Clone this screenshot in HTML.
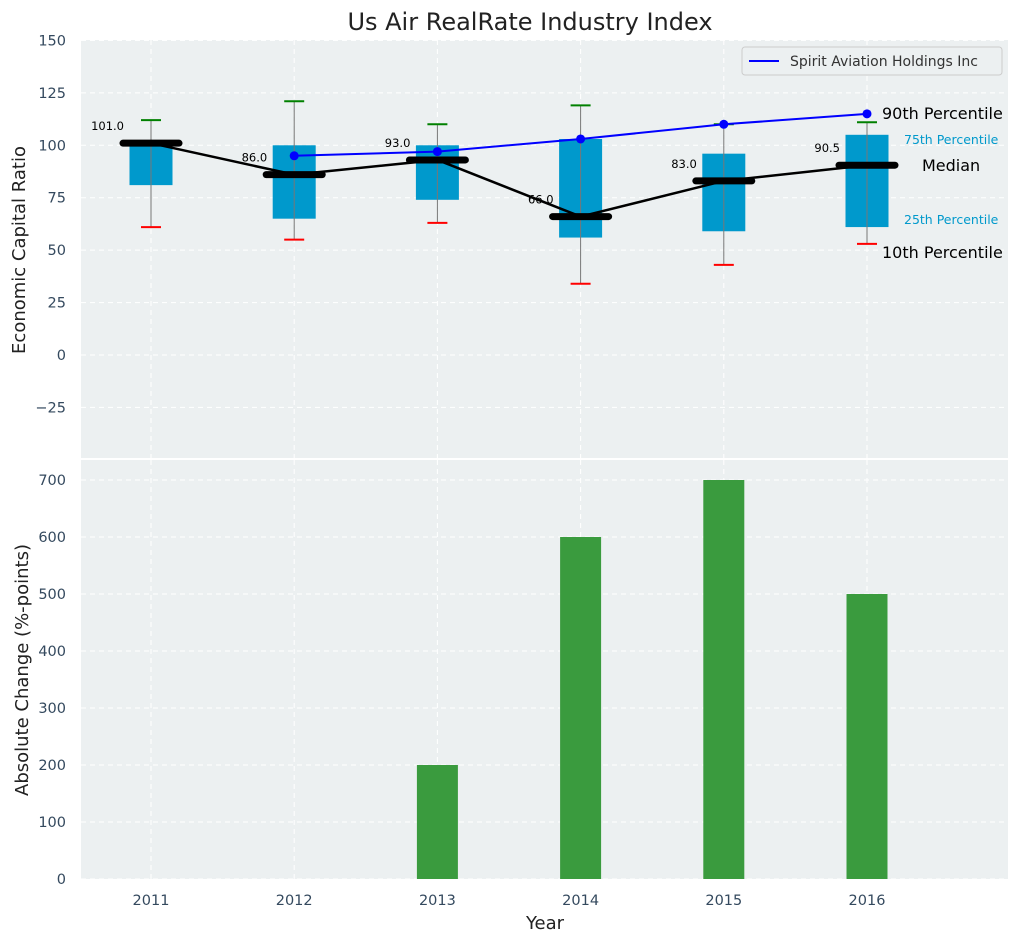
<!DOCTYPE html>
<html><head><meta charset="utf-8"><style>
body{margin:0;background:#fff;font-family:"Liberation Sans","DejaVu Sans",sans-serif}
svg text{font-family:"DejaVu Sans","Liberation Sans",sans-serif}
</style></head><body>
<svg id="c" width="1019" height="942" xmlns="http://www.w3.org/2000/svg"></svg>
<script>
const years=[2011,2012,2013,2014,2015,2016];
const medians=[101,86,93,66,83,90.5];
const q1=[81,65,74,56,59,61];
const q3=[101,100,100,103,96,105];
const p10=[61,55,63,34,43,53];
const p90w=[112,121,110,119,110,111];
const peer=[null,95,97,103,110,115];
const changes=[0,0,200,600,700,500];
const topTicks=[-25,0,25,50,75,100,125,150];
const botTicks=[0,100,200,300,400,500,600,700];

const svg=document.getElementById('c');
const NS='http://www.w3.org/2000/svg';
function el(t,a,p){const e=document.createElementNS(NS,t);for(const k in a)e.setAttribute(k,a[k]);(p||svg).appendChild(e);return e;}
const L=81,R=1008;
const x=i=>151+(i)*143.2;
const yT=v=>355-v*2.0972;
const yB=v=>879-v*0.57;
const pt=el('rect',{x:L,y:40,width:R-L,height:418,fill:'#ecf0f1'});

const pb=el('rect',{x:L,y:460,width:R-L,height:419,fill:'#ecf0f1'});

years.forEach((yr,i)=>{
 el('line',{x1:x(i),x2:x(i),y1:40,y2:458,stroke:'#fff','stroke-dasharray':'5,4','stroke-width':1});
 el('line',{x1:x(i),x2:x(i),y1:460,y2:879,stroke:'#fff','stroke-dasharray':'5,4','stroke-width':1});
 const t=el('text',{x:x(i),y:905,'text-anchor':'middle','font-size':14.5,fill:'#34495e'});t.textContent=yr;
 
});
topTicks.forEach(v=>{
 el('line',{x1:L,x2:R,y1:yT(v),y2:yT(v),stroke:'#fff','stroke-dasharray':'5,4'});
 const t=el('text',{x:66,y:yT(v)+5,'text-anchor':'end','font-size':14.5,fill:'#34495e'});t.textContent=v<0?'\u2212'+(-v):v;
 
});
botTicks.forEach(v=>{
 el('line',{x1:L,x2:R,y1:yB(v),y2:yB(v),stroke:'#fff','stroke-dasharray':'5,4'});
 const t=el('text',{x:66,y:yB(v)+5,'text-anchor':'end','font-size':14.5,fill:'#34495e'});t.textContent=v;
 
});
changes.forEach((v,i)=>{
 if(v<=0)return;
 const b=el('rect',{x:x(i)-20.5,y:yB(v),width:41,height:yB(0)-yB(v),fill:'#3a9b3e'});
 
});
years.forEach((yr,i)=>{
 const b=el('rect',{x:x(i)-21.5,y:yT(q3[i]),width:43,height:yT(q1[i])-yT(q3[i]),fill:'#0099cc'});
 
 el('line',{x1:x(i),x2:x(i),y1:yT(p90w[i]),y2:yT(p10[i]),stroke:'#777','stroke-width':1});
 const c1=el('line',{x1:x(i)-10,x2:x(i)+10,y1:yT(p90w[i]),y2:yT(p90w[i]),stroke:'#008000','stroke-width':2});
 
 const c2=el('line',{x1:x(i)-10,x2:x(i)+10,y1:yT(p10[i]),y2:yT(p10[i]),stroke:'#ff0000','stroke-width':2});
 
});
const ml=el('polyline',{points:medians.map((v,i)=>x(i)+','+yT(v)).join(' '),fill:'none',stroke:'#000','stroke-width':2.5});

medians.forEach((v,i)=>{
 const m=el('line',{x1:x(i)-28,x2:x(i)+28,y1:yT(v),y2:yT(v),stroke:'#000','stroke-width':7,'stroke-linecap':'round'});
 
 const t=el('text',{x:x(i)-27,y:yT(v)-13,'text-anchor':'end','font-size':11.5,fill:'#000'});t.textContent=v.toFixed(1);
 
});
const pp=peer.map((v,i)=>v==null?null:x(i)+','+yT(v)).filter(Boolean);
const pl=el('polyline',{points:pp.join(' '),fill:'none',stroke:'#0000ff','stroke-width':2});

peer.forEach((v,i)=>{if(v==null)return;const d=el('circle',{cx:x(i),cy:yT(v),r:4.5,fill:'#0000ff'});
 });
const last=5;
function ann(txt,xx,yy,size,col,name){const t=el('text',{x:xx,y:yy,'font-size':size,fill:col});t.textContent=txt;}
ann('90th Percentile',882,yT(peer[last])+5,16,'#000','p90-annotation');
ann('75th Percentile',904,yT(q3[last])+9,12.5,'#0099cc','p75-annotation');
ann('Median',922,yT(medians[last])+6,16,'#000','median-annotation');
ann('25th Percentile',904,yT(q1[last])-3,12.5,'#0099cc','p25-annotation');
ann('10th Percentile',882,yT(p10[last])+14,16,'#000','p10-annotation');
const lg=el('g',{});
el('rect',{x:742,y:47,width:260,height:28,rx:3,fill:'#ecf0f1',stroke:'#ccc'},lg);
el('line',{x1:749,x2:779,y1:61,y2:61,stroke:'#0000ff','stroke-width':2},lg);
const lt=el('text',{x:790,y:66,'font-size':14,fill:'#333'},lg);lt.textContent='Spirit Aviation Holdings Inc';
ann('Us Air RealRate Industry Index',0,0,24,'#222','chart-title');
const tt=svg.lastChild;tt.setAttribute('x',530);tt.setAttribute('y',30);tt.setAttribute('text-anchor','middle');
ann('Year',545,929,18,'#222','x-axis-title');svg.lastChild.setAttribute('text-anchor','middle');
const y1=el('text',{x:0,y:0,'font-size':18,fill:'#222','text-anchor':'middle',transform:'translate(25,250) rotate(-90)'});y1.textContent='Economic Capital Ratio';

const y2=el('text',{x:0,y:0,'font-size':18,fill:'#222','text-anchor':'middle',transform:'translate(28,670) rotate(-90)'});y2.textContent='Absolute Change (%-points)';

</script>
</body></html>
